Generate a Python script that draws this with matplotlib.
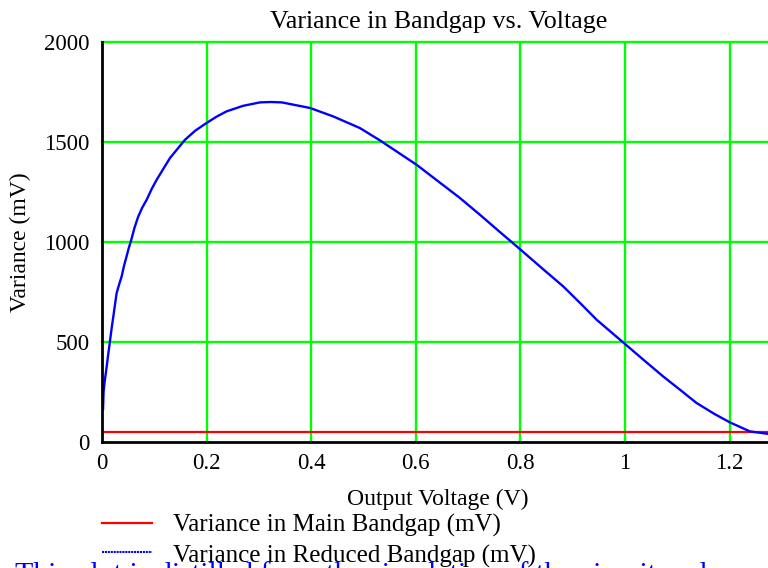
import matplotlib
matplotlib.use("Agg")
import matplotlib.pyplot as plt
from matplotlib.lines import Line2D

plt.rcParams["font.family"] = ["Liberation Serif", "DejaVu Serif"]

# values
reduced_v = [0.002, 0.003, 0.005, 0.009, 0.012, 0.0153, 0.0185, 0.0217, 0.025,
             0.028, 0.033, 0.0376, 0.042, 0.047, 0.051, 0.0555, 0.062, 0.0694,
             0.077, 0.0854, 0.095, 0.1045, 0.13, 0.1587, 0.178, 0.197, 0.218,
             0.238, 0.270, 0.302, 0.323, 0.344, 0.398, 0.442, 0.493, 0.5316,
             0.6017, 0.6845, 0.7228, 0.76, 0.799, 0.84, 0.882, 0.915, 0.946,
             1.002, 1.035, 1.073, 1.105, 1.137, 1.17, 1.2008, 1.239, 1.273, 1.29]
reduced_mv = [165, 250, 300, 378, 440, 506, 570, 628, 690,
              745, 790, 828, 880, 928, 968, 1006, 1070, 1128,
              1172, 1211, 1265, 1311, 1420, 1511, 1556, 1590, 1625,
              1653, 1681, 1698, 1700, 1698, 1670, 1628, 1570, 1508,
              1386, 1220, 1136, 1052, 965, 872, 778, 693, 611,
              486, 412, 328, 262, 195, 142, 98, 53, 41, 38]
main_v = [0.0, 1.29]
main_mv = [48, 48]

x_ticks = [0, 0.2, 0.4, 0.6, 0.8, 1.0, 1.2]
x_tick_labels = ["0", "0.2", "0.4", "0.6", "0.8", "1", "1.2"]
y_ticks = [0, 500, 1000, 1500, 2000]

title = "Variance in Bandgap vs. Voltage"
x_label = "Output Voltage (V)"
y_label = "Variance (mV)"
legend_labels = ["Variance in Main Bandgap (mV)", "Variance in Reduced Bandgap (mV)"]
note = "This plot is distilled from the simulation of the circuit and"

W, H = 768, 568
fig = plt.figure(figsize=(W / 100, H / 100), dpi=100)

# axes box in pixels (right edge runs past the picture, like the source)
left, right, top, bottom = 102, 775, 42, 442
ax = fig.add_axes([left / W, 1 - bottom / H, (right - left) / W, (bottom - top) / H])
ax.set_xlim(0, 1.287)
ax.set_ylim(0, 2000)

green = "#00ff00"
for xv in x_ticks[1:]:
    ax.axvline(xv, color=green, lw=1.7, zorder=1)
for yv in y_ticks[1:]:
    ax.axhline(yv, color=green, lw=1.7, zorder=1, clip_on=False)

ax.plot(main_v, main_mv, color="#ff0000", lw=1.6, zorder=3)
ax.plot(reduced_v, reduced_mv, color="#0000ff", lw=1.7, zorder=4)

for side in ["top", "right"]:
    ax.spines[side].set_visible(False)
for side in ["left", "bottom"]:
    ax.spines[side].set_linewidth(2)
    ax.spines[side].set_zorder(5)

ax.set_xticks(x_ticks)
ax.set_xticklabels(x_tick_labels)
ax.set_yticks(y_ticks)
ax.tick_params(length=0, labelsize=16.5)
ax.tick_params(axis="x", pad=8)
ax.tick_params(axis="y", pad=9)

fig.text(439 / W, 1 - 22 / H, title, ha="center", va="center", fontsize=18.7)
fig.text(438 / W, 1 - 499 / H, x_label, ha="center", va="center", fontsize=17)
fig.text(20 / W, 1 - 242 / H, y_label, ha="center", va="center", rotation=90, fontsize=17)

# legend below the plot, drawn by hand like the original
fig.add_artist(Line2D([102 / W, 152 / W], [1 - 523 / H, 1 - 523 / H], color="#ff0000", lw=1.6))
fig.add_artist(Line2D([102 / W, 152 / W], [1 - 552 / H, 1 - 552 / H], color="#0000ff", lw=1.5,
                      linestyle=(0, (1, 0.4))))
fig.text(173 / W, 1 - 525 / H, legend_labels[0], ha="left", va="center", fontsize=18)
fig.text(173 / W, 1 - 556 / H, legend_labels[1], ha="left", va="center", fontsize=18)

# blue note, cut by the bottom edge
fig.text(15 / W, 1 - 582 / H, note, ha="left", va="baseline", fontsize=21.5, color="#0000ff")

fig.savefig("out.png", dpi=100)
